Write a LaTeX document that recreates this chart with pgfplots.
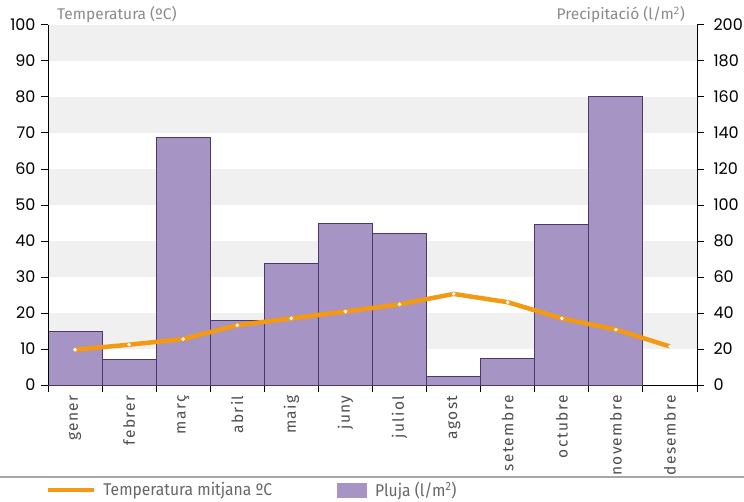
\documentclass[border=0pt]{standalone}
\usepackage{fontspec}
\usepackage{pgfplots}
\pgfplotsset{compat=1.18}
\setmainfont{Poppins}
\newfontfamily\labfont{Fira Sans}
\newfontfamily\monthfont[LetterSpace=9]{Fira Sans}
\newfontfamily\condfont[FakeStretch=0.92]{Fira Sans}
\definecolor{barfill}{HTML}{A694C4}
\definecolor{baredge}{HTML}{4A3A6B}
\definecolor{tempc}{HTML}{F39A12}
\definecolor{stripe}{HTML}{EFF0EF}
\definecolor{titlegrey}{HTML}{8A8A8A}
\definecolor{labgrey}{HTML}{4D4D4D}
\definecolor{leggrey}{HTML}{666666}
\begin{document}
\begin{tikzpicture}
\path[use as bounding box] (0,0) rectangle (744pt,501pt);
\pgfplotsset{base/.style={scale only axis, width=649pt, height=360pt,
  at={(48pt,116pt)}, anchor=south west, xmin=-0.5, xmax=11.5,
  /pgf/number format/assume math mode=true,
  tick label style={font=\fontsize{16}{17}\selectfont, color=black},
  major tick length=7pt, minor tick length=7pt, tick align=outside,
  axis line style={line width=1pt, black, -},
  tick style={black, line width=1pt},
  legend style={draw=none, fill=none, inner sep=0pt, anchor=west,
    font=\condfont\fontsize{17}{18}\selectfont, text=leggrey},
  legend cell align=left}}
% precipitation axis (right)
\begin{axis}[base, name=pax,
  axis x line*=bottom, axis y line*=right,
  ymin=0, ymax=200, ytick={0,20,...,200},
  xtick={0,...,11},
  xticklabels={gener,febrer,març,abril,maig,juny,juliol,agost,setembre,octubre,novembre,desembre},
  xticklabel style={rotate=90, anchor=east, font=\monthfont\fontsize{15.5}{16}\selectfont, text=labgrey},
  major x tick style={draw=none},
  minor xtick={-0.5,0.5,...,11.5},
  yticklabel style={xshift=6pt},
  legend style={at={(0.4453,-0.2917)}},
]
\fill[stripe] (axis cs:-0.5,180) rectangle (axis cs:11.5,200);
\fill[stripe] (axis cs:-0.5,140) rectangle (axis cs:11.5,160);
\fill[stripe] (axis cs:-0.5,100) rectangle (axis cs:11.5,120);
\fill[stripe] (axis cs:-0.5,60) rectangle (axis cs:11.5,80);
\fill[stripe] (axis cs:-0.5,20) rectangle (axis cs:11.5,40);
\addplot[ybar, bar width=1, fill=barfill, draw=baredge, line width=1pt,
  legend image code/.code={\fill[barfill] (0pt,-7pt) rectangle (29pt,7pt); \path (35pt,0pt);}]
coordinates {
(0,29.5) (1,14.3) (2,137.6) (3,36) (4,67.3) (5,89.5) (6,84.3) (7,5) (8,14.5) (9,89.2) (10,160.2)
};
\addlegendentry{Pluja (l/m\textsuperscript{2})}
\end{axis}
% temperature axis (left)
\begin{axis}[base,
  axis x line=none, axis y line*=left,
  ymin=0, ymax=100, ytick={0,10,...,100},
  yticklabel style={xshift=-2pt},
  legend style={at={(-0.003,-0.2917)}},
]
\addplot[tempc, line width=4.5pt, mark=*, mark size=1.8pt,
  mark options={fill=white, draw=white, line width=0.1pt},
  legend image code/.code={\draw[tempc, line width=4pt] (0pt,0pt) -- (46pt,0pt); \path (51pt,0pt);}]
coordinates {
(0,9.8) (1,11.2) (2,12.75) (3,16.6) (4,18.5) (5,20.4) (6,22.4) (7,25.3) (8,23.0) (9,18.5) (10,15.4) (11,10.7)
};
\addlegendentry{Temperatura mitjana ºC}
\end{axis}
\node[anchor=base west, font=\labfont\fontsize{15.5}{16}\selectfont, text=titlegrey, inner sep=0pt]
  at ([xshift=9pt, yshift=5pt]pax.north west) {Temperatura (ºC)};
\node[anchor=base east, font=\labfont\fontsize{15.5}{16}\selectfont, text=titlegrey, inner sep=0pt]
  at ([xshift=-12pt, yshift=5pt]pax.north east) {Precipitació (l/m\textsuperscript{2})};
\draw[gray!70, line width=1.2pt] (0,24pt) -- (744pt,24pt);
\end{tikzpicture}
\end{document}
